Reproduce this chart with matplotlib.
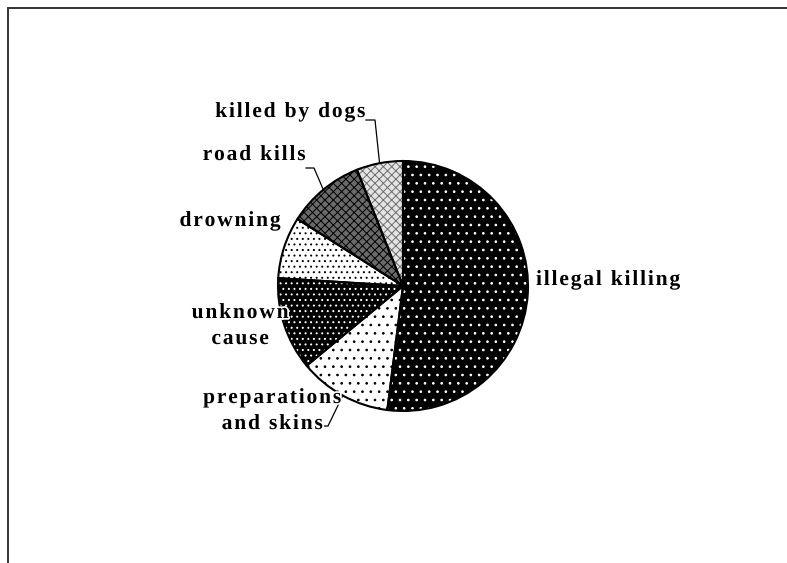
import numpy as np
import matplotlib
matplotlib.use('Agg')
import matplotlib.pyplot as plt
import matplotlib.patheffects as pe
from matplotlib.patches import Rectangle

# cause of death shares (%), clockwise from 12 o'clock
causes = ['illegal killing', 'preparations\nand skins', 'unknown\ncause',
          'drowning', 'road kills', 'killed by dogs']
shares = [52, 12, 12, 8, 10, 6]

# fill styles: face colour, hatch, hatch colour
faces = ['black', 'white', 'black', 'white', '#6a6a6a', '#e4e4e4']
hatches = ['..', '..', '...', '...', 'xxxx', 'xxxx']
hatch_cols = ['white', 'black', 'white', 'black', 'black', '#6e6e6e']

W, H = 787, 563
fig = plt.figure(figsize=(W / 100, H / 100), dpi=100)
ax = fig.add_axes([0, 0, 1, 1])

plt.rcParams['hatch.linewidth'] = 0.7

center = (403, H - 286)
radius = 125

# filled + hatched wedges
wedges, _ = ax.pie(shares, colors=faces, startangle=90, counterclock=False,
                   center=center, radius=radius, frame=True,
                   wedgeprops=dict(linewidth=0))
for w, h, hc in zip(wedges, hatches, hatch_cols):
    w.set_hatch(h)
    w.set_edgecolor(hc)
    w.set_linewidth(0)

# black outlines on top
ax.pie(shares, colors=['none'] * len(shares), startangle=90, counterclock=False,
       center=center, radius=radius, frame=True,
       wedgeprops=dict(linewidth=1.5, edgecolor='black', fill=False))
ax.set_xlim(0, W)
ax.set_ylim(0, H)
ax.set_aspect('equal')
ax.axis('off')

font = dict(family='Liberation Serif', fontweight='bold', fontsize=15.5)
halo = [pe.withStroke(linewidth=2.5, foreground='white')]


def spaced(s):
    # the source labels are letter-spaced; mimic with hair spaces
    return '\n'.join('\u200a'.join(line) for line in s.split('\n'))


# label positions (pixel coords, y from top), alignment, leader line or not
label_pos = [(536, 280, 'left', False),
             (272, 411, 'center', True),
             (240, 326, 'center', False),
             (230, 221, 'center', False),
             (254, 155, 'center', True),
             (290, 112, 'center', True)]
leader_start = {1: (320, 426), 4: (306, 168), 5: (366, 120)}
leader_knee = {1: (328, 426), 4: (314, 168), 5: (375, 120)}

for i, (w, lab, (tx, ty, ha, lead)) in enumerate(zip(wedges, causes, label_pos)):
    ax.text(tx, H - ty, spaced(lab), ha=ha, va='center', linespacing=1.4,
            zorder=5, path_effects=halo, **font)
    if lead:
        # point on the rim, at the wedge's middle angle
        th = np.deg2rad((w.theta1 + w.theta2) / 2)
        ex = center[0] + radius * np.cos(th)
        ey = center[1] + radius * np.sin(th)
        sx, sy = leader_start[i]
        kx, ky = leader_knee[i]
        ax.plot([sx, kx, ex], [H - sy, H - ky, ey], color='black', lw=0.9)

# chart area border (runs off the right and bottom edges)
ax.add_patch(Rectangle((8, -20), W, H - 8 + 20, fill=False,
                       edgecolor='#333333', lw=1.4, clip_on=False))

fig.savefig('out.png', dpi=100)
